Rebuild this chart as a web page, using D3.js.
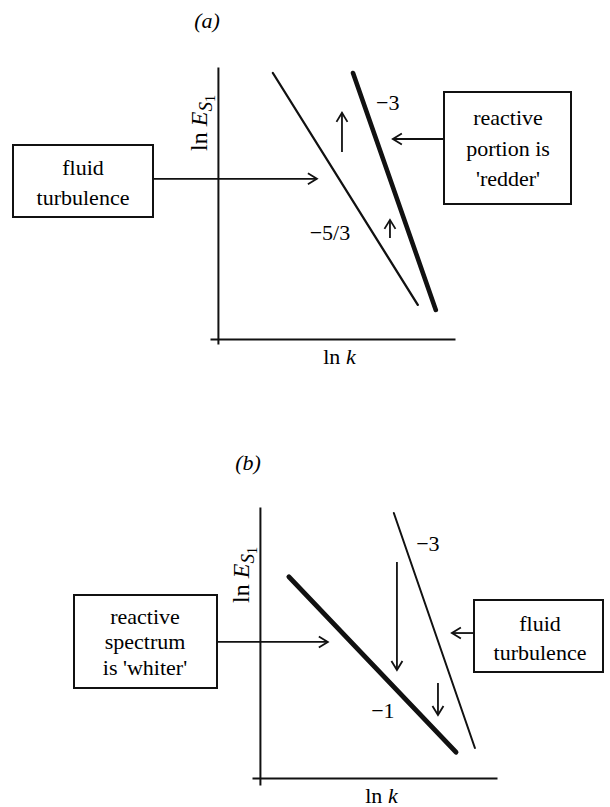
<!DOCTYPE html>
<html><head><meta charset="utf-8">
<script src="https://cdn.jsdelivr.net/npm/d3@7"></script>
<style>body{margin:0;background:#fff}svg{display:block}</style>
</head><body>
<script>
// ---------- DATA ----------
const panelLabels = ["(a)", "(b)"];
// spectra: endpoints in (ln k, ln E) units
const spectrumA_fluid    = [{k: 2.29, e: 11.08}, {k: 8.33, e: 1.42}];  // slope -5/3
const spectrumA_reactive = [{k: 5.63, e: 11.08}, {k: 9.08, e: 1.21}];  // slope -3
const spectrumB_reactive = [{k: 1.21, e: 8.38},  {k: 8.17, e: 1.08}];  // slope -1
const spectrumB_fluid    = [{k: 5.58, e: 11.04}, {k: 8.96, e: 1.25}];  // slope -3
const slopeLabelsA = ["−5/3", "−3"];
const slopeLabelsB = ["−1", "−3"];
const boxTextsA = [["fluid", "turbulence"], ["reactive", "portion is", "'redder'"]];
const boxTextsB = [["reactive", "spectrum", "is 'whiter'"], ["fluid", "turbulence"]];

// ---------- LAYOUT ----------
const W = 610, H = 807;
const FONT = "'Liberation Serif','Times New Roman',serif";
const FS = 22;
const svg = d3.select("body").append("svg").attr("width", W).attr("height", H);

const panels = [
  {
    label: panelLabels[0], labelPos: [207, 20],
    xDom: [-0.33, 9.88], xRange: [210, 455],
    yDom: [-0.21, 11.33], yRange: [344, 67],
    yLabelX: 207, yLabelY: 123,
    series: [
      {data: spectrumA_fluid, w: 2.3},
      {data: spectrumA_reactive, w: 4.6}
    ],
    slopeLabels: [
      {t: slopeLabelsA[0], k: 4.67, e: 4.46},
      {t: slopeLabelsA[1], k: 7.08, e: 9.88}
    ],
    vArrows: [ {k: 5.17, e0: 7.79, e1: 9.42}, {k: 7.17, e0: 4.21, e1: 4.96} ],
    boxes: [
      {x: 13, y: 145, w: 140, h: 72, cx: 83, lines: boxTextsA[0], ly: [167, 197]},
      {x: 444, y: 92, w: 127, h: 112, cx: 508, lines: boxTextsA[1], ly: [117, 148, 178]}
    ],
    hArrows: [ {x0: 153, e: 6.67, k1: 4.125}, {x0: 444, e: 8.33, k1: 7.29} ]
  },
  {
    label: panelLabels[1], labelPos: [248, 462],
    xDom: [-0.33, 9.88], xRange: [252, 497],
    yDom: [-0.29, 11.29], yRange: [785, 507],
    yLabelX: 249, yLabelY: 575,
    series: [
      {data: spectrumB_reactive, w: 5},
      {data: spectrumB_fluid, w: 2}
    ],
    slopeLabels: [
      {t: slopeLabelsB[0], k: 5.125, e: 2.83},
      {t: slopeLabelsB[1], k: 7.0, e: 9.79}
    ],
    vArrows: [ {k: 5.71, e0: 9.0, e1: 4.5}, {k: 7.42, e0: 3.96, e1: 2.625} ],
    boxes: [
      {x: 74, y: 595, w: 143, h: 93, cx: 145, lines: boxTextsB[0], ly: [616, 641.5, 667]},
      {x: 474, y: 600, w: 129, h: 72, cx: 540, lines: boxTextsB[1], ly: [623, 652]}
    ],
    hArrows: [ {x0: 217, e: 5.67, k1: 2.83}, {x0: 474, e: 6.04, k1: 8.0} ]
  }
];

function arrowHead(g, tx, ty, dx, dy, L, Wd) {
  const px = -dy, py = dx;
  g.append("path")
    .attr("d", `M${tx - L*dx + Wd*px},${ty - L*dy + Wd*py}L${tx},${ty}L${tx - L*dx - Wd*px},${ty - L*dy - Wd*py}`)
    .attr("fill", "none").attr("stroke", "#111").attr("stroke-width", 1.8)
    .attr("stroke-linejoin", "miter");
}

panels.forEach(p => {
  const g = svg.append("g");
  const x = d3.scaleLinear().domain(p.xDom).range(p.xRange);
  const y = d3.scaleLinear().domain(p.yDom).range(p.yRange);

  // panel label
  g.append("text").attr("x", p.labelPos[0]).attr("y", p.labelPos[1]).attr("dy", "0.35em")
    .attr("text-anchor", "middle").attr("font-family", FONT).attr("font-size", FS)
    .attr("font-style", "italic").text(p.label);

  // axes (no ticks)
  const xa = g.append("g").attr("transform", `translate(0,${y(0)})`)
    .call(d3.axisBottom(x).tickValues([]).tickSizeOuter(0));
  const ya = g.append("g").attr("transform", `translate(${x(0)},0)`)
    .call(d3.axisLeft(y).tickValues([]).tickSizeOuter(0));
  [xa, ya].forEach(a => a.select(".domain").attr("stroke", "#111").attr("stroke-width", 2));

  // x label
  const xl = g.append("text").attr("x", (x(0) + x(9.88)) / 2 + 3).attr("y", y(0) + 25)
    .attr("text-anchor", "middle").attr("font-family", FONT).attr("font-size", FS);
  xl.append("tspan").text("ln ");
  xl.append("tspan").attr("font-style", "italic").text("k");

  // y label (rotated)
  const yl = g.append("text").attr("transform", `translate(${p.yLabelX},${p.yLabelY}) rotate(-90)`)
    .attr("text-anchor", "middle").attr("font-family", FONT).attr("font-size", 24);
  yl.append("tspan").text("ln ");
  yl.append("tspan").attr("font-style", "italic").text("E");
  yl.append("tspan").attr("font-style", "italic").attr("font-size", 19).attr("dy", 5).text("S");
  yl.append("tspan").attr("font-size", 14).attr("dy", 3).text("1");

  // spectra
  const line = d3.line().x(d => x(d.k)).y(d => y(d.e));
  p.series.forEach(s => {
    g.append("path").datum(s.data).attr("d", line).attr("fill", "none")
      .attr("stroke", "#111").attr("stroke-width", s.w).attr("stroke-linecap", "round");
  });

  // slope labels
  p.slopeLabels.forEach(l => {
    g.append("text").attr("x", x(l.k)).attr("y", y(l.e)).attr("dy", "0.35em")
      .attr("text-anchor", "middle").attr("font-family", FONT).attr("font-size", FS).text(l.t);
  });

  // vertical arrows
  p.vArrows.forEach(a => {
    const X = x(a.k), Y0 = y(a.e0), Y1 = y(a.e1);
    g.append("line").attr("x1", X).attr("x2", X).attr("y1", Y0).attr("y2", Y1)
      .attr("stroke", "#111").attr("stroke-width", 1.8);
    arrowHead(g, X, Y1, 0, Y1 < Y0 ? -1 : 1, 9, 5.5);
  });

  // boxes
  p.boxes.forEach(b => {
    g.append("rect").attr("x", b.x).attr("y", b.y).attr("width", b.w).attr("height", b.h)
      .attr("fill", "#fff").attr("stroke", "#111").attr("stroke-width", 2);
    b.lines.forEach((t, i) => {
      g.append("text").attr("x", b.cx).attr("y", b.ly[i]).attr("dy", "0.35em")
        .attr("text-anchor", "middle").attr("font-family", FONT).attr("font-size", FS).text(t);
    });
  });

  // horizontal arrows
  p.hArrows.forEach(a => {
    const Y = y(a.e), X1 = x(a.k1);
    g.append("line").attr("x1", a.x0).attr("x2", X1).attr("y1", Y).attr("y2", Y)
      .attr("stroke", "#111").attr("stroke-width", 1.8);
    arrowHead(g, X1, Y, X1 > a.x0 ? 1 : -1, 0, 9, 5.5);
  });
});
</script>
</body></html>
